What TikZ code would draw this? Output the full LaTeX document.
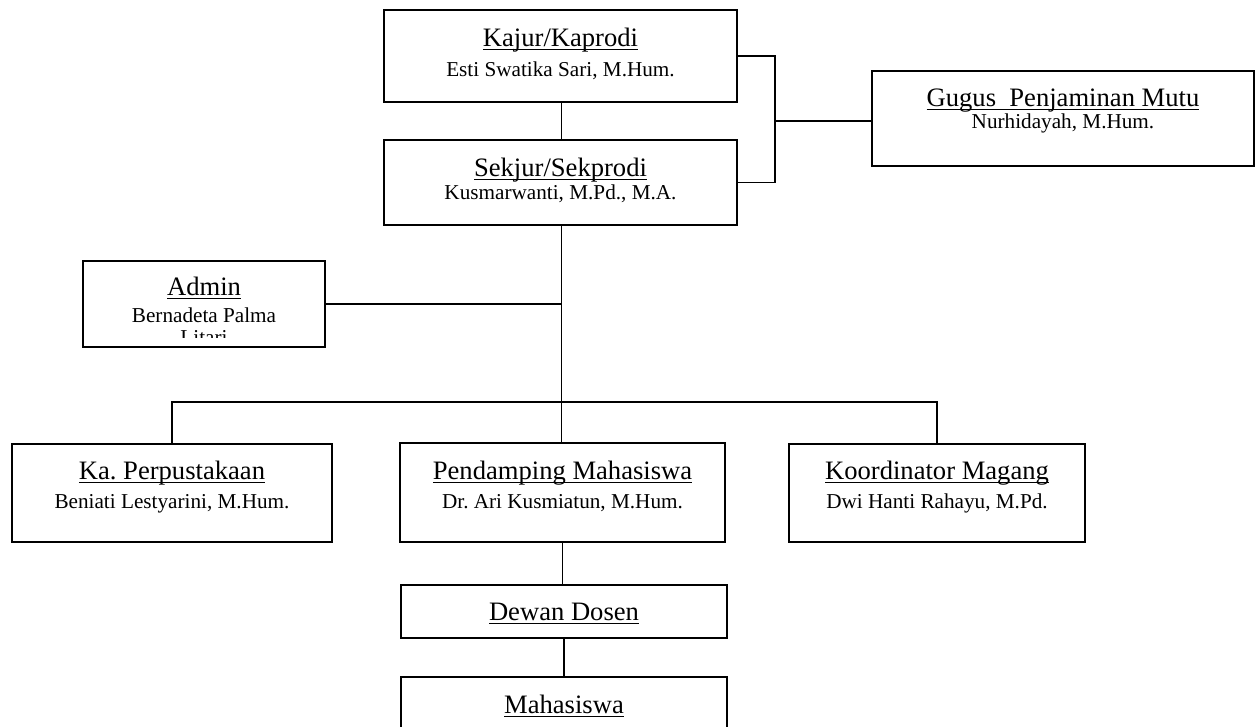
\documentclass[tikz,border=0pt]{standalone}
\usepackage{fontspec}
\setmainfont{Liberation Serif}
\frenchspacing
\newcommand{\titlefont}{\fontsize{26.6}{22}\selectfont}
\newcommand{\namefont}{\fontsize{21.2}{22}\selectfont}
\newcommand{\ultitle}[1]{{\titlefont\setbox0\hbox{#1}\rlap{\rule[-4pt]{\wd0}{1.3pt}}\box0}}
\tikzset{
  unit/.style={draw, rectangle, line width=1.4pt, align=center, inner sep=0pt, font=\namefont, text depth=5pt},
  link/.style={line width=1.4pt}
}
\begin{document}
\begin{tikzpicture}[x=1pt,y=-1pt]
\clip (0,0) rectangle (1255,726);
\node[unit, minimum width=353pt, minimum height=92pt, text height=45pt] (kajur) at (560.5,56) {\ultitle{Kajur/Kaprodi}\\[8pt] Esti Swatika Sari, M.Hum.};
\node[unit, minimum width=353pt, minimum height=85pt, text height=38pt] (sekjur) at (560.5,182.5) {\ultitle{Sekjur/Sekprodi}\\[1pt] Kusmarwanti, M.Pd., M.A.};
\node[unit, minimum width=382pt, minimum height=95pt, text height=24pt] (gugus) at (1063,118.5) {\ultitle{Gugus~ Penjaminan Mutu}\\ Nurhidayah, M.Hum.};
\node[unit, minimum width=242pt, minimum height=86pt, text height=41pt] (admin) at (204,304) {\ultitle{Admin}\\[5pt] Bernadeta Palma};
\node[unit, minimum width=320pt, minimum height=98pt, text height=35pt] (perpus) at (172,493) {\ultitle{Ka. Perpustakaan}\\[7pt] Beniati Lestyarini, M.Hum.};
\node[unit, minimum width=325pt, minimum height=99pt, text height=36pt] (pendamping) at (562.5,492.5) {\ultitle{Pendamping Mahasiswa}\\[7pt] Dr. Ari Kusmiatun, M.Hum.};
\node[unit, minimum width=296pt, minimum height=98pt, text height=35pt] (magang) at (937,493) {\ultitle{Koordinator Magang}\\[7pt] Dwi Hanti Rahayu, M.Pd.};
\node[unit, minimum width=326pt, minimum height=53pt, text height=20pt, text depth=3pt] (dewan) at (564,611.5) {\ultitle{Dewan Dosen}};
\node[unit, minimum width=326pt, minimum height=93pt, text height=20pt, text depth=41pt] (mhs) at (564,723.5) {\ultitle{Mahasiswa}};
% sisa nama admin yang terpotong
\begin{scope}
\clip (85,263) rectangle (323,337);
\node[font=\namefont, anchor=base, inner sep=0pt] (adminx) at (204,344) {Litari};
\end{scope}
\coordinate (brk) at (775,121);
\coordinate (bus) at (561.5,402);
\path[draw,link] (kajur.south -| bus) -- (sekjur.north -| bus);
\path[draw,link] (kajur.east) -| (brk) |- (sekjur.east);
\path[draw,link] (brk) -- (gugus.west |- brk);
\path[draw,link] (sekjur.south -| bus) -- (bus);
\path[draw,link] (admin.east) -- (admin.east -| bus);
\path[draw,link] (perpus.north) -- (perpus.north |- bus) -- (magang.north |- bus) -- (magang.north);
\path[draw,link] (bus) -- (pendamping.north -| bus);
\path[draw,link] (pendamping.south) -- (pendamping.south |- dewan.north);
\path[draw,link] (dewan) -- (mhs);
\end{tikzpicture}
\end{document}
